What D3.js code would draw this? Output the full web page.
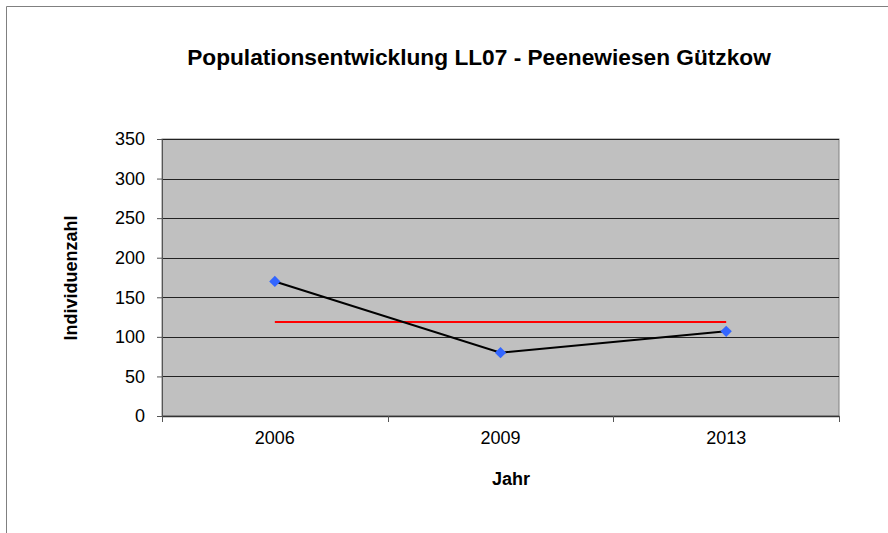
<!DOCTYPE html>
<html>
<head>
<meta charset="utf-8">
<script src="https://cdn.jsdelivr.net/npm/d3@7"></script>
<style>
  body { margin: 0; background: #fff; }
  text { font-family: "Liberation Sans", Arial, sans-serif; fill: #000; }
</style>
</head>
<body>
<svg id="chart" width="888" height="533"></svg>
<script>
var years = ["2006", "2009", "2013"],
    counts = [170, 80, 107],
    yTicks = [0, 50, 100, 150, 200, 250, 300, 350];

var mean = d3.mean(counts);

var svg = d3.select("#chart"),
    plotLeft = 162, plotTop = 139, plotRight = 839, plotBottom = 416;

// outer chart frame (cropped at right and bottom)
svg.append("path")
    .attr("d", "M6.5,533V6.5H888")
    .attr("fill", "none")
    .attr("stroke", "#808080")
    .attr("stroke-width", 1);

var x = d3.scaleBand().domain(years).range([plotLeft, plotRight]),
    y = d3.scaleLinear().domain([0, 350]).range([plotBottom, plotTop]);

svg.append("rect")
    .attr("x", plotLeft).attr("y", plotTop)
    .attr("width", plotRight - plotLeft).attr("height", plotBottom - plotTop)
    .attr("fill", "#c0c0c0")
    .attr("stroke", "#808080");

// gridlines
svg.append("g").selectAll("line")
    .data(yTicks.slice(1))
    .enter().append("line")
    .attr("x1", plotLeft).attr("x2", plotRight)
    .attr("y1", function(d) { return Math.round(y(d)) + 0.5; })
    .attr("y2", function(d) { return Math.round(y(d)) + 0.5; })
    .attr("stroke", "#222");

var yAxis = svg.append("g")
    .attr("transform", "translate(" + plotLeft + ",0)")
    .call(d3.axisLeft(y).tickValues(yTicks).tickSize(5).tickPadding(12));
yAxis.select(".domain").attr("stroke", "#555");
yAxis.selectAll(".tick line").attr("stroke", "#555");
yAxis.selectAll("text").style("font-size", "18px")
    .style("font-family", "'Liberation Sans', Arial, sans-serif");

var xAxis = svg.append("g")
    .attr("transform", "translate(0," + plotBottom + ")")
    .call(d3.axisBottom(x).tickSize(0).tickPadding(15));
xAxis.select(".domain").attr("stroke", "#333").attr("stroke-width", 1.5);
xAxis.selectAll("text").style("font-size", "18px")
    .style("font-family", "'Liberation Sans', Arial, sans-serif");

// category boundary ticks
svg.append("g").selectAll("line")
    .data(years.concat([null]))
    .enter().append("line")
    .attr("x1", function(d) { return Math.round(d ? x(d) : plotRight) + 0.5; })
    .attr("x2", function(d) { return Math.round(d ? x(d) : plotRight) + 0.5; })
    .attr("y1", plotBottom).attr("y2", plotBottom + 6)
    .attr("stroke", "#555");

var cx = function(d, i) { return x(years[i]) + x.bandwidth() / 2; };

// mean line
var my = Math.round(y(mean));
svg.append("line")
    .attr("x1", cx(null, 0)).attr("x2", cx(null, years.length - 1))
    .attr("y1", my).attr("y2", my)
    .attr("stroke", "#ff0000").attr("stroke-width", 2);

svg.append("path")
    .datum(counts)
    .attr("fill", "none")
    .attr("stroke", "#000")
    .attr("stroke-width", 2)
    .attr("d", d3.line().x(cx).y(function(d) { return y(d); }));

svg.append("g").selectAll("path")
    .data(counts)
    .enter().append("path")
    .attr("d", d3.symbol().type(d3.symbolSquare).size(64))
    .attr("transform", function(d, i) { return "translate(" + cx(d, i) + "," + y(d) + ") rotate(45)"; })
    .attr("fill", "#3366ff");

svg.append("text")
    .attr("x", 479).attr("y", 65)
    .attr("text-anchor", "middle")
    .style("font-size", "22.7px").style("font-weight", "bold")
    .text("Populationsentwicklung LL07 - Peenewiesen Gützkow");

svg.append("text")
    .attr("x", 511).attr("y", 485)
    .attr("text-anchor", "middle")
    .style("font-size", "18px").style("font-weight", "bold")
    .text("Jahr");

svg.append("text")
    .attr("transform", "translate(77,278) rotate(-90)")
    .attr("text-anchor", "middle")
    .style("font-size", "18px").style("font-weight", "bold")
    .text("Individuenzahl");
</script>
</body>
</html>
